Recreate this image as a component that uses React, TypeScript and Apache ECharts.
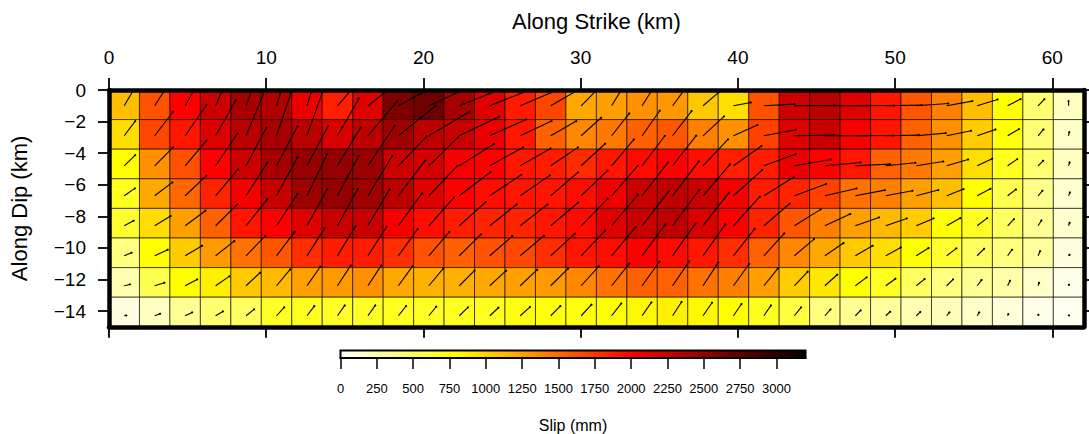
import React, { useEffect, useRef } from "react";
import * as echarts from "echarts";

// Along-strike / along-dip extents (km)
const strikeLength = 62;
const dipLength = 15;
const strikeTicks = [0, 10, 20, 30, 40, 50, 60];
const dipTicks = [0, -2, -4, -6, -8, -10, -12, -14];
const slipTicks = [0, 250, 500, 750, 1000, 1250, 1500, 1750, 2000, 2250, 2500, 2750, 3000];
const slipMax = 3200;
const cellColumns = 32;
const cellRows = 8;

// depth of the origin of the slip vectors in each row (km)
const vectorDepths = [-1, -2.9, -4.8, -6.7, -8.6, -10.5, -12.4, -14.3];

// colour scale: [slip in mm, r, g, b]
const colourStops = [
  [0, 255, 255, 255],
  [800, 255, 255, 0],
  [2000, 255, 0, 0],
  [3200, 0, 0, 0],
];

// slip (mm), one row of cells from the surface down
const slip0 = [1100,1620,2000,2240,2410,2370,2080,1860,2150,2600,2680,2410,2150,1880,1670,1210,1250,1320,1285,1060,950,1620,2240,2320,2150,1900,1600,1400,1100,800,450,200];
const slip1 = [960,1670,1900,2160,2320,2410,2320,2180,2300,2450,2300,2260,2100,1900,1550,1360,1430,1550,1590,1400,1320,1700,2150,2260,2040,1900,1550,1320,1040,780,430,170];
const slip2 = [800,1320,1620,2000,2240,2410,2490,2490,2470,2240,2200,2040,2000,1900,1870,1800,1900,1960,2000,1940,1860,1870,2100,2000,1900,1550,1430,1250,950,700,450,200];
const slip3 = [700,1210,1510,1830,2040,2260,2450,2490,2450,2320,2150,2000,1940,1900,1900,1940,2070,2260,2300,2260,2040,1870,1830,1700,1470,1400,1250,1100,800,550,360,150];
const slip4 = [650,960,1250,1550,1900,2000,2150,2260,2260,2040,1940,1870,1830,1830,1900,1960,2150,2260,2300,2180,2000,1830,1590,1400,1250,1130,1040,800,680,500,340,150];
const slip5 = [400,800,1040,1280,1470,1590,1790,1870,1870,1790,1620,1550,1620,1660,1790,1900,1940,2000,1960,1890,1790,1550,1360,1210,1060,960,800,650,500,400,300,100];
const slip6 = [250,550,800,870,1060,1130,1250,1280,1320,1210,1170,1170,1210,1250,1280,1360,1470,1550,1550,1470,1400,1250,1040,910,800,700,500,400,340,270,170,70];
const slip7 = [100,200,340,450,500,680,700,680,680,700,680,700,700,750,770,770,800,830,870,830,800,700,600,400,340,300,250,220,170,120,70,50];
const slipRows = [slip0, slip1, slip2, slip3, slip4, slip5, slip6, slip7];

// slip-vector components [along strike, up dip], one row of cells from the surface down
const vec0 = [[30,51],[47,73],[53,94],[48,110],[44,122],[38,122],[34,107],[66,75],[92,71],[122,67],[131,60],[120,48],[108,43],[94,40],[78,45],[46,46],[35,57],[38,60],[41,55],[48,41],[52,10],[91,5],[120,1],[125,0],[115,1],[108,2],[96,7],[77,14],[61,19],[39,20],[19,20],[0,14]];
const vec1 = [[33,44],[55,72],[64,92],[61,107],[52,124],[43,127],[45,127],[65,112],[88,104],[112,90],[122,72],[119,57],[109,49],[94,44],[77,44],[60,54],[53,67],[53,75],[57,74],[63,58],[72,32],[96,18],[119,2],[125,0],[112,1],[100,2],[89,8],[73,15],[55,19],[34,20],[16,19],[2,11]];
const vec2 = [[33,32],[55,55],[64,75],[66,97],[61,114],[63,118],[64,120],[70,115],[80,119],[85,88],[88,86],[104,65],[100,55],[91,52],[82,55],[72,66],[67,79],[68,89],[71,90],[75,79],[84,59],[96,35],[110,19],[107,10],[104,5],[89,9],[81,13],[64,19],[45,21],[29,20],[15,15],[3,10]];
const vec3 = [[32,22],[53,40],[64,60],[67,79],[64,99],[63,115],[61,125],[64,119],[73,119],[80,105],[85,89],[94,71],[94,62],[89,61],[82,70],[79,75],[79,90],[78,100],[79,103],[81,94],[86,77],[90,56],[95,35],[95,22],[89,17],[80,15],[66,17],[51,20],[40,21],[25,19],[13,15],[4,10]];
const vec4 = [[28,15],[48,29],[61,45],[65,64],[64,80],[63,95],[61,109],[61,110],[65,109],[71,97],[75,84],[79,71],[81,64],[82,64],[82,69],[80,81],[79,93],[80,103],[80,107],[78,99],[79,87],[77,66],[79,49],[76,35],[71,25],[63,22],[52,22],[41,23],[30,23],[19,20],[10,16],[3,9]];
const vec5 = [[22,9],[39,18],[51,30],[56,44],[57,59],[55,72],[53,82],[54,88],[56,87],[58,80],[61,71],[65,64],[68,59],[71,60],[73,66],[72,75],[72,86],[70,94],[69,97],[67,94],[64,81],[61,67],[59,50],[56,38],[52,30],[45,25],[37,23],[29,22],[21,21],[13,18],[6,14],[3,3]];
const vec6 = [[17,4],[29,9],[36,19],[41,28],[42,39],[41,49],[40,57],[40,61],[40,61],[42,58],[43,51],[46,46],[49,45],[51,48],[52,51],[53,58],[53,66],[52,72],[50,73],[46,70],[47,65],[42,52],[40,42],[37,33],[34,25],[29,21],[25,20],[19,19],[13,17],[7,15],[3,9],[1,3]];
const vec7 = [[6,1],[16,6],[21,10],[22,13],[24,19],[23,25],[22,29],[22,31],[22,31],[23,29],[22,27],[26,25],[26,24],[29,26],[29,29],[31,33],[29,37],[28,40],[27,41],[27,39],[24,35],[21,31],[20,25],[17,19],[16,16],[13,12],[12,11],[8,10],[6,10],[2,5],[1,3],[1,1]];
const vecRows = [vec0, vec1, vec2, vec3, vec4, vec5, vec6, vec7];

// km of axis per unit of vector component
const vectorScale = 1 / 47.25;

const FONT = "Liberation Sans";

function slipColour(v: number): string {
  for (let i = 1; i < colourStops.length; i++) {
    const a = colourStops[i - 1];
    const b = colourStops[i];
    if (v <= b[0]) {
      const t = (v - a[0]) / (b[0] - a[0]);
      const c = [1, 2, 3].map((k) => Math.round(a[k] + (b[k] - a[k]) * t));
      return `rgb(${c[0]},${c[1]},${c[2]})`;
    }
  }
  return "#000";
}

const cellData: number[][] = [];
const vectorData: number[][] = [];
slipRows.forEach((row, r) =>
  row.forEach((v, c) => {
    cellData.push([c, r, v]);
    vectorData.push([c, r, vecRows[r][c][0], vecRows[r][c][1]]);
  })
);

const axisBase = {
  min: 0,
  splitLine: { show: false },
  axisLine: { show: true, onZero: false, lineStyle: { color: "#000", width: 4.5 } },
  z: 10,
};

export default function App() {
  const ref = useRef<HTMLDivElement>(null);
  useEffect(() => {
    document.body.style.margin = "0";
    const chart = echarts.init(ref.current!, null, { renderer: "svg" });
    const tickStyle = { length: 11, lineStyle: { color: "#000", width: 1.8 } };
    const labelStyle = { color: "#000", fontFamily: FONT, fontSize: 19 };
    const nameStyle = { color: "#000", fontFamily: FONT, fontSize: 22 };
    chart.setOption({
      animation: false,
      backgroundColor: "#fff",
      textStyle: { fontFamily: FONT },
      grid: [
        { left: 108.3, top: 90, width: 975.5, height: 236.8, containLabel: false },
        { left: 340.5, top: 350.5, width: 465, height: 8.5, containLabel: false },
      ],
      xAxis: [
        {
          ...axisBase,
          type: "value",
          gridIndex: 0,
          position: "top",
          max: strikeLength,
          name: "Along Strike (km)",
          nameLocation: "middle",
          nameGap: 58,
          nameTextStyle: nameStyle,
          axisTick: { show: true, ...tickStyle, length: 12, customValues: strikeTicks },
          axisLabel: { ...labelStyle, margin: 23, customValues: strikeTicks },
        },
        {
          ...axisBase,
          type: "value",
          gridIndex: 0,
          position: "bottom",
          max: strikeLength,
          axisTick: { show: true, ...tickStyle, customValues: strikeTicks },
          axisLabel: { show: false },
        },
        {
          ...axisBase,
          type: "value",
          gridIndex: 1,
          position: "bottom",
          max: slipMax,
          name: "Slip (mm)",
          nameLocation: "middle",
          nameGap: 59,
          nameTextStyle: { color: "#000", fontFamily: FONT, fontSize: 16 },
          axisLine: { show: true, lineStyle: { color: "#000", width: 2 } },
          axisTick: { show: true, length: 11, lineStyle: { color: "#000", width: 1.5 }, customValues: slipTicks },
          axisLabel: {
            color: "#000",
            fontFamily: FONT,
            fontSize: 13,
            margin: 24,
            customValues: slipTicks,
            formatter: (v: number) => String(v),
          },
        },
      ],
      yAxis: [
        {
          ...axisBase,
          type: "value",
          gridIndex: 0,
          position: "left",
          min: -dipLength,
          max: 0,
          name: "Along Dip (km)",
          nameLocation: "middle",
          nameGap: 79,
          nameRotate: 90,
          nameTextStyle: nameStyle,
          axisTick: { show: true, ...tickStyle, customValues: dipTicks },
          axisLabel: {
            ...labelStyle,
            margin: 23,
            customValues: dipTicks,
            formatter: (v: number) => String(v).replace("-", "\u2212"),
          },
        },
        {
          ...axisBase,
          type: "value",
          gridIndex: 0,
          position: "right",
          min: -dipLength,
          max: 0,
          axisTick: { show: true, ...tickStyle, customValues: dipTicks },
          axisLabel: { show: false },
        },
        {
          type: "value",
          gridIndex: 1,
          min: 0,
          max: 1,
          show: false,
        },
      ],
      series: [
        {
          type: "custom",
          name: "cells",
          xAxisIndex: 0,
          yAxisIndex: 0,
          silent: true,
          z: 2,
          data: cellData,
          renderItem: (_p: any, api: any) => {
            const c = api.value(0);
            const r = api.value(1);
            const w = strikeLength / cellColumns;
            const h = dipLength / cellRows;
            const a = api.coord([c * w, -r * h]);
            const b = api.coord([(c + 1) * w, -(r + 1) * h]);
            return {
              type: "rect",
              shape: { x: a[0], y: a[1], width: b[0] - a[0], height: b[1] - a[1] },
              style: { fill: slipColour(api.value(2)), stroke: "rgba(0,0,0,0.62)", lineWidth: 1 },
            };
          },
        },
        {
          type: "custom",
          name: "vectors",
          xAxisIndex: 0,
          yAxisIndex: 0,
          silent: true,
          clip: true,
          z: 3,
          data: vectorData,
          renderItem: (_p: any, api: any) => {
            const c = api.value(0);
            const r = api.value(1);
            const x0 = (c + 0.5) * (strikeLength / cellColumns);
            const y0 = vectorDepths[r];
            const p0 = api.coord([x0, y0]);
            const p1 = api.coord([x0 + api.value(2) * vectorScale, y0 + api.value(3) * vectorScale]);
            return {
              type: "group",
              children: [
                {
                  type: "line",
                  shape: { x1: p0[0], y1: p0[1], x2: p1[0], y2: p1[1] },
                  style: { stroke: "#000", lineWidth: 1.1 },
                },
                {
                  type: "circle",
                  shape: { cx: p1[0], cy: p1[1], r: 1.1 },
                  style: { fill: "#000" },
                },
              ],
            };
          },
        },
        {
          type: "custom",
          name: "colourbar",
          xAxisIndex: 2,
          yAxisIndex: 2,
          silent: true,
          z: 2,
          data: [[0, 0]],
          renderItem: (_p: any, api: any) => {
            const a = api.coord([0, 1]);
            const b = api.coord([slipMax, 0]);
            return {
              type: "rect",
              shape: { x: a[0], y: a[1], width: b[0] - a[0], height: b[1] - a[1] },
              style: {
                fill: new echarts.graphic.LinearGradient(
                  0, 0, 1, 0,
                  colourStops.map((s) => ({ offset: s[0] / slipMax, color: `rgb(${s[1]},${s[2]},${s[3]})` }))
                ),
                stroke: "#000",
                lineWidth: 2,
              },
            };
          },
        },
      ],
    });
    return () => chart.dispose();
  }, []);
  return <div ref={ref} style={{ width: 1089, height: 434, overflow: "hidden" }} />;
}
